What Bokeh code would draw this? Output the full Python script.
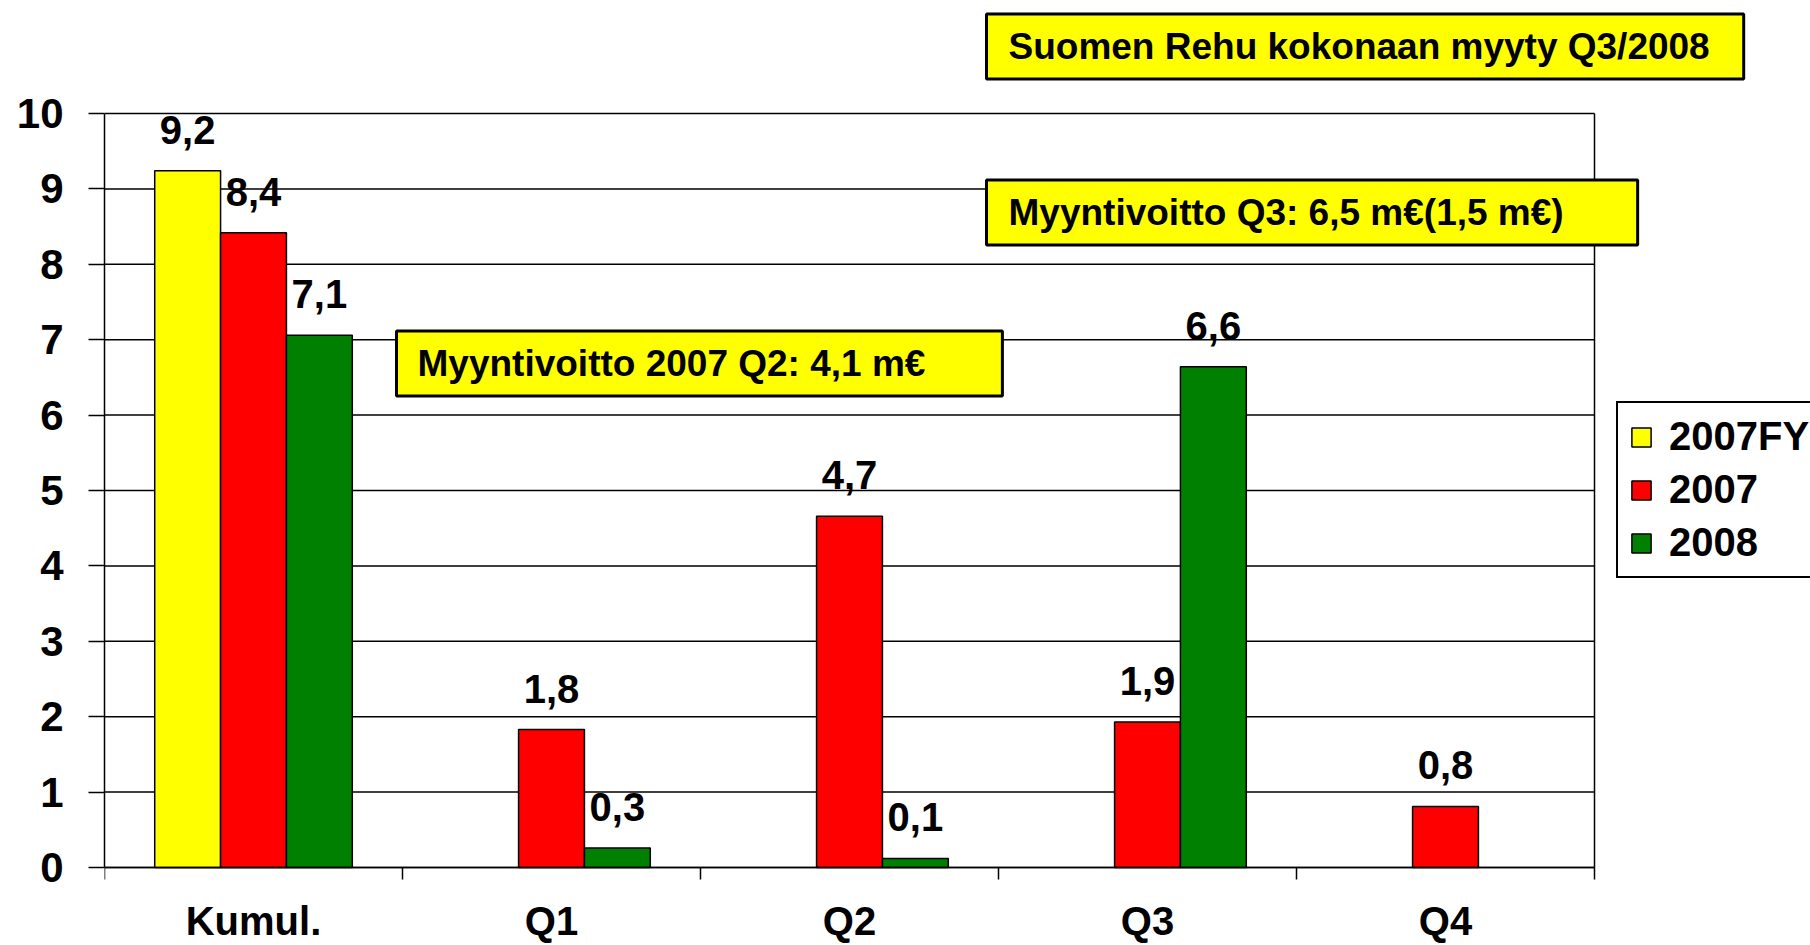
import numpy as np
from bokeh.plotting import figure
from bokeh.models import (ColumnDataSource, Range1d, FixedTicker, Legend, LegendItem, Label)
from bokeh.transform import dodge
from bokeh.core.properties import value
from bokeh.embed import file_html
from bokeh.resources import INLINE

# ---- data ----
categories = ["Kumul.", "Q1", "Q2", "Q3", "Q4"]
fy2007 = [9.24, np.nan, np.nan, np.nan, np.nan]
y2007 = [8.42, 1.83, 4.66, 1.93, 0.81]
y2008 = [7.06, 0.26, 0.12, 6.64, np.nan]
series_names = ["2007FY", "2007", "2008"]
series_colors = ["#FFFF00", "#FF0000", "#008000"]
y_ticks = list(range(0, 11))
notes = ["Suomen Rehu kokonaan myyty Q3/2008",
         "Myyntivoitto Q3: 6,5 m\u20ac(1,5 m\u20ac)",
         "Myyntivoitto 2007 Q2: 4,1 m\u20ac"]

# ---- layout constants (pixels) ----
FONT = "Liberation Sans"
W, H = 1810, 945
AREA_L, AREA_R, AREA_T, AREA_B = 104, 1594, 113, 867   # visible plot area
BAR_W = 0.221

n_cat = len(categories)
y_max = max(y_ticks)
# the frame covers the canvas right of the y axis, so that notes/legend are not clipped
x_hi = n_cat * (W - AREA_L) / (AREA_R - AREA_L)
ppu = (AREA_B - AREA_T) / y_max
y_lo = -(H - AREA_B) / ppu
y_hi = y_max + AREA_T / ppu


def fmt(v):
    return "" if np.isnan(v) else f"{v:.1f}".replace(".", ",")


xs = (np.arange(n_cat) + 0.5).tolist()
series_vals = [fy2007, y2007, y2008]
offsets = [-BAR_W, 0.0, BAR_W]

p = figure(width=W, height=H, output_backend="svg", toolbar_location=None,
           x_range=Range1d(0, x_hi), y_range=Range1d(y_lo, y_hi),
           min_border_left=AREA_L, min_border_right=0, min_border_top=0,
           min_border_bottom=0)
p.background_fill_color = "white"
p.border_fill_color = "white"
p.outline_line_color = None
p.xgrid.visible = False
p.ygrid.visible = False

# gridlines and plot-area border (drawn from the tick list / category count)
p.segment(x0=[0] * len(y_ticks), x1=[n_cat] * len(y_ticks), y0=y_ticks, y1=y_ticks,
          line_color="black", line_width=1.5, level="underlay")
p.segment(x0=[n_cat], x1=[n_cat], y0=[0], y1=[y_max],
          line_color="black", line_width=1.5, level="underlay")

# y axis
ya = p.yaxis[0]
ya.ticker = FixedTicker(ticks=y_ticks)
ya.bounds = (0, y_max)
ya.major_tick_out = 16
ya.major_tick_in = 0
ya.minor_tick_out = 0
ya.minor_tick_in = 0
ya.axis_line_color = "black"
ya.axis_line_width = 1.5
ya.major_tick_line_width = 1.5
ya.major_label_standoff = 25
ya.major_label_text_font = FONT
ya.major_label_text_font_style = "bold"
ya.major_label_text_font_size = "42px"
ya.major_label_text_color = "black"

# x axis at y = 0: category names at centres, tick marks at category boundaries
xa = p.xaxis[0]
xa.fixed_location = 0
xa.ticker = FixedTicker(ticks=xs, minor_ticks=list(range(n_cat + 1)))
xa.bounds = (0, n_cat)
xa.major_label_overrides = {x: c for x, c in zip(xs, categories)}
xa.major_tick_out = 0
xa.major_tick_in = 0
xa.minor_tick_out = 12
xa.minor_tick_in = 0
xa.minor_tick_line_color = "black"
xa.minor_tick_line_width = 1.5
xa.major_label_standoff = 19
xa.major_label_text_font = FONT
xa.major_label_text_font_style = "bold"
xa.major_label_text_font_size = "40px"
xa.major_label_text_color = "black"
xa.axis_line_color = "black"
xa.axis_line_width = 1.5

data = dict(x=xs)
for i, vals in enumerate(series_vals):
    data[f"v{i}"] = vals
    data[f"t{i}"] = [fmt(v) for v in vals]
src = ColumnDataSource(data)

renderers = []
for i, (name, color) in enumerate(zip(series_names, series_colors)):
    r = p.vbar(x=dodge("x", offsets[i], range=p.x_range), top=f"v{i}", bottom=0,
               width=BAR_W, source=src, fill_color=color, line_color="black",
               line_width=1.5)
    renderers.append(r)
    p.text(x=dodge("x", offsets[i], range=p.x_range), y=f"v{i}", text=f"t{i}",
           source=src, y_offset=-41, text_align="center", text_baseline="alphabetic",
           text_font=value(FONT), text_font_style="bold", text_font_size="40px",
           text_color="black")

# legend
legend = Legend(items=[LegendItem(label=n, renderers=[r]) for n, r in zip(series_names, renderers)],
                location=(1616 - AREA_L, H - 578), margin=0, padding=11, spacing=8,
                glyph_width=24, glyph_height=24, label_standoff=16,
                label_text_font=FONT, label_text_font_style="bold",
                label_text_font_size="40px", label_text_color="black",
                border_line_color="black", border_line_width=2, border_line_alpha=1.0,
                background_fill_color="white", background_fill_alpha=1.0)
p.add_layout(legend, "center")

# note boxes (left edge, vertical middle in page pixels; paddings)
box_specs = [
    (986, 46, dict(left=22, right=34, top=12, bottom=12)),
    (986, 212, dict(left=22, right=74, top=12, bottom=12)),
    (396, 363, dict(left=21, right=77, top=12, bottom=12)),
]
for txt, (bx, by, pad) in zip(notes, box_specs):
    lab = Label(x=bx - AREA_L, y=H - by, x_units="screen", y_units="screen", text=txt,
                text_align="left", text_baseline="middle",
                text_font=FONT, text_font_style="bold", text_font_size="37px",
                text_color="black", background_fill_color="#FFFF00",
                background_fill_alpha=1.0, border_line_color="black",
                border_line_width=3, padding=pad)
    p.add_layout(lab)

open("out.html", "w").write(file_html(p, INLINE))
